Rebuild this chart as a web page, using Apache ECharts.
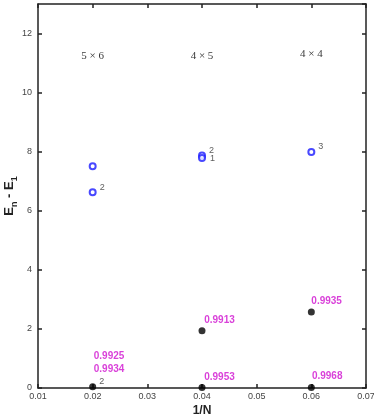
<!DOCTYPE html>
<html>
<head>
<meta charset="utf-8">
<script src="https://cdn.jsdelivr.net/npm/echarts@6/dist/echarts.min.js"></script>
<style>
html,body{margin:0;padding:0;background:#fff;}
#chartmain{width:374px;height:418px;}
</style>
</head>
<body>
<div id="chartmain"></div>
<script>
// 数据
var xTicks = [0.01, 0.02, 0.03, 0.04, 0.05, 0.06, 0.07];
var yTicks = [0, 2, 4, 6, 8, 10, 12];

// 空心圆 (蓝)
var openX = [0.02, 0.02, 0.04, 0.04, 0.06];
var openY = [7.51, 6.63, 7.87, 7.79, 7.99];
var openTag = ['', '2', '2', '1', '3'];

// 实心圆 (黑)
var fullX = [0.02, 0.04, 0.04, 0.06, 0.06];
var fullY = [0.04, 1.94, 0.02, 2.57, 0.02];
var fullTag = ['2', '', '', '', ''];

// 洋红标注
var magX = [0.0202, 0.0202, 0.0404, 0.0404, 0.0600, 0.0601];
var magY = [1.07, 0.64, 2.28, 0.36, 2.94, 0.39];
var magText = ['0.9925', '0.9934', '0.9913', '0.9953', '0.9935', '0.9968'];

// 尺寸标注
var sizeX = [0.02, 0.04, 0.06];
var sizeY = [11.24, 11.24, 11.3];
var sizeText = ['5 × 6', '4 × 5', '4 × 4'];

function pts(xs, ys, tags) {
    var arr = [];
    for (var i = 0; i < xs.length; i++) {
        var d = {value: [xs[i], ys[i]], tag: tags ? tags[i] : ''};
        // "1" 标签放在圆右侧
        if (d.tag === '1') d.label = {offset: [-1, 1]};
        arr.push(d);
    }
    return arr;
}

var tagLabel = {
    show: true,
    position: 'right',
    offset: [-2, -5],
    fontSize: 9,
    color: '#333',
    fontFamily: 'Liberation Sans',
    formatter: function (p) { return p.data.tag; }
};

var lineStyle = {show: true, onZero: false, lineStyle: {color: '#222', width: 1.5}};
var tickStyle = {show: true, inside: true, length: 4, lineStyle: {color: '#222', width: 1.5}};

var option = {
    animation: false,
    grid: {left: 38, right: 8, top: 4, bottom: 30, outerBoundsMode: 'none', containLabel: false},
    xAxis: [{
        type: 'value', min: 0.01, max: 0.07, interval: 0.01,
        name: '1/N', nameLocation: 'middle', nameGap: 17, nameMoveOverlap: false,
        nameTextStyle: {fontSize: 12, fontWeight: 'bold', color: '#222', fontFamily: 'Liberation Sans'},
        axisLine: lineStyle,
        axisTick: tickStyle,
        axisLabel: {fontSize: 9, color: '#444', margin: 4, fontFamily: 'Liberation Sans',
            formatter: function (v) { return v.toFixed(2); }},
        splitLine: {show: false}
    }, {
        type: 'value', min: 0.01, max: 0.07, interval: 0.01, position: 'top',
        axisLine: lineStyle,
        axisTick: tickStyle,
        axisLabel: {show: false},
        splitLine: {show: false}
    }],
    yAxis: [{
        type: 'value', min: 0, max: 13, interval: 2,
        name: '{e|E}{s|n}{e| - E}{s|1}', nameLocation: 'middle', nameGap: 17, nameMoveOverlap: false,
        nameTextStyle: {
            rich: {
                e: {fontSize: 13, fontWeight: 'bold', color: '#222', fontFamily: 'Liberation Sans', verticalAlign: 'top', lineHeight: 18},
                s: {fontSize: 9, fontWeight: 'bold', color: '#222', fontFamily: 'Liberation Sans', verticalAlign: 'top', lineHeight: 18, padding: [7, 0, 0, 0]}
            }
        },
        axisLine: lineStyle,
        axisTick: tickStyle,
        axisLabel: {fontSize: 9, color: '#444', margin: 6, fontFamily: 'Liberation Sans',
            showMaxLabel: false},
        splitLine: {show: false}
    }, {
        type: 'value', min: 0, max: 13, interval: 2, position: 'right',
        axisLine: lineStyle,
        axisTick: tickStyle,
        axisLabel: {show: false},
        splitLine: {show: false}
    }],
    series: [{
        type: 'scatter',
        symbol: 'emptyCircle',
        symbolSize: 6,
        itemStyle: {color: '#1a1aff', borderColor: '#1a1aff', borderWidth: 1.2},
        label: tagLabel,
        data: pts(openX, openY, openTag)
    }, {
        type: 'scatter',
        symbol: 'circle',
        symbolSize: 7,
        itemStyle: {color: '#000'},
        label: tagLabel,
        data: pts(fullX, fullY, fullTag)
    }, {
        type: 'scatter',
        symbolSize: 0,
        label: {
            show: true, position: 'right', distance: 0,
            fontSize: 10, fontWeight: 'bold', color: '#d010d0', fontFamily: 'Liberation Sans',
            formatter: function (p) { return p.data.tag; }
        },
        data: pts(magX, magY, magText)
    }, {
        type: 'scatter',
        symbolSize: 0,
        label: {
            show: true, position: 'inside',
            fontSize: 11, color: '#000', fontFamily: 'Liberation Serif',
            formatter: function (p) { return p.data.tag; }
        },
        data: pts(sizeX, sizeY, sizeText)
    }]
};

var myChart = echarts.init(document.getElementById('chartmain'));
myChart.setOption(option);
</script>
</body>
</html>
